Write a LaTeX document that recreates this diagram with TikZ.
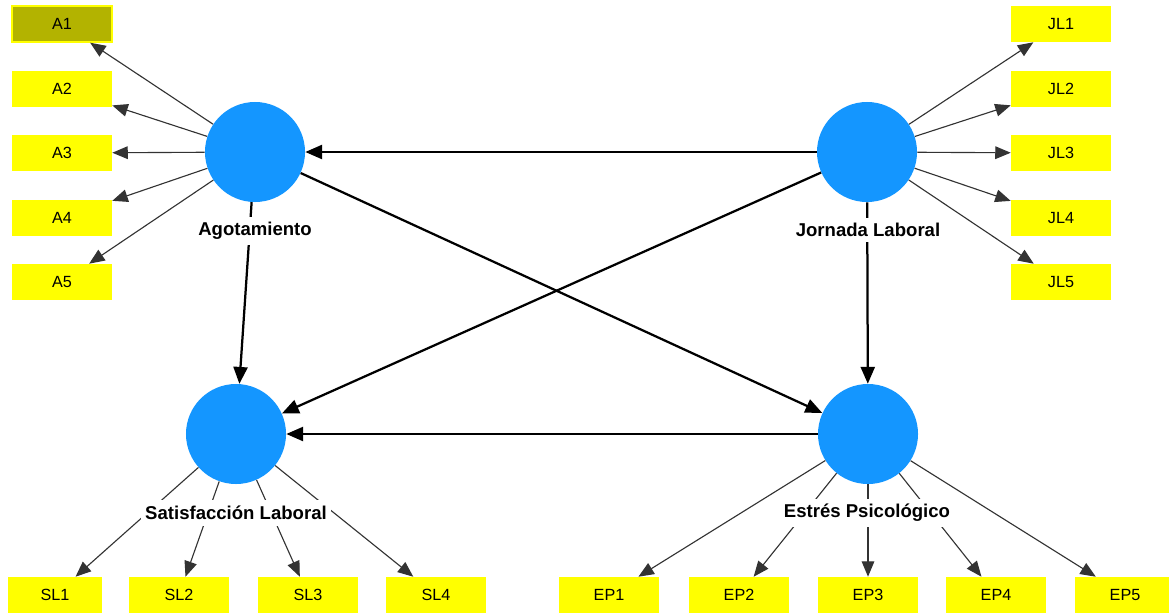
\documentclass[tikz,border=0pt]{standalone}
\usepackage{fontspec}
\setmainfont{Liberation Sans}
\usepackage{xcolor}
\usetikzlibrary{arrows.meta}
\definecolor{indyellow}{HTML}{FFFF00}
\definecolor{selolive}{HTML}{B3B300}
\definecolor{latblue}{HTML}{1496FF}

\tikzset{
  latent/.style={circle, fill=latblue, minimum size=2.5cm, inner sep=0pt},
  latlabel/.style={fill=white, inner xsep=3pt, inner ysep=4pt,
                   font=\fontsize{13.2}{15}\selectfont\bfseries},
  indicator/.style={fill=indyellow, minimum width=2.5cm, minimum height=0.9cm,
                    inner sep=0pt, font=\fontsize{11.5}{13}\selectfont},
  loadarrow/.style={-{Triangle[length=11pt, width=9pt]}, draw=black!80, line width=0.8pt},
  patharrow/.style={-{Triangle[length=12pt, width=10pt]}, draw=black, line width=1.6pt}
}

\begin{document}
\begin{tikzpicture}[x=0.025cm, y=-0.025cm]
    \useasboundingbox (0,0) rectangle (1169,613);

    % latent variables
    \node[latent] (agot)   at (255,152) {};
    \node[latent] (jorn)   at (867,152) {};
    \node[latent] (satis)  at (236,434) {};
    \node[latent] (estres) at (868,434) {};

    % indicators
    \node[indicator, fill=selolive, draw=indyellow, line width=1pt] (a1) at (62,24) {A1};
    \node[indicator] (a2) at (62,89)  {A2};
    \node[indicator] (a3) at (62,153) {A3};
    \node[indicator] (a4) at (62,218) {A4};
    \node[indicator] (a5) at (62,282) {A5};

    \node[indicator] (jl1) at (1061,24)  {JL1};
    \node[indicator] (jl2) at (1061,89)  {JL2};
    \node[indicator] (jl3) at (1061,153) {JL3};
    \node[indicator] (jl4) at (1061,218) {JL4};
    \node[indicator] (jl5) at (1061,282) {JL5};

    \node[indicator, minimum width=2.35cm] (sl1) at (55,595)  {SL1};
    \node[indicator] (sl2) at (179,595) {SL2};
    \node[indicator] (sl3) at (308,595) {SL3};
    \node[indicator] (sl4) at (436,595) {SL4};

    \node[indicator] (ep1) at (609,595)  {EP1};
    \node[indicator] (ep2) at (739,595)  {EP2};
    \node[indicator] (ep3) at (868,595)  {EP3};
    \node[indicator] (ep4) at (996,595)  {EP4};
    \node[indicator] (ep5) at (1125,595) {EP5};

    % outer model
    \draw[loadarrow] (agot) -- (a1);
    \draw[loadarrow] (agot) -- (a2);
    \draw[loadarrow] (agot) -- (a3);
    \draw[loadarrow] (agot) -- (a4);
    \draw[loadarrow] (agot) -- (a5);
    \draw[loadarrow] (jorn) -- (jl1);
    \draw[loadarrow] (jorn) -- (jl2);
    \draw[loadarrow] (jorn) -- (jl3);
    \draw[loadarrow] (jorn) -- (jl4);
    \draw[loadarrow] (jorn) -- (jl5);
    \draw[loadarrow] (satis) -- (sl1);
    \draw[loadarrow] (satis) -- (sl2);
    \draw[loadarrow] (satis) -- (sl3);
    \draw[loadarrow] (satis) -- (sl4);
    \draw[loadarrow] (estres) -- (ep1);
    \draw[loadarrow] (estres) -- (ep2);
    \draw[loadarrow] (estres) -- (ep3);
    \draw[loadarrow] (estres) -- (ep4);
    \draw[loadarrow] (estres) -- (ep5);

    % inner model
    \draw[patharrow] (jorn) -- (agot);
    \draw[patharrow] (jorn) -- (satis);
    \draw[patharrow] (jorn) -- (estres);
    \draw[patharrow] (agot) -- (satis);
    \draw[patharrow] (agot) -- (estres);
    \draw[patharrow] (estres) -- (satis);

    % names on top
    \node[latlabel] (agotlbl)   at (255,231) {Agotamiento};
    \node[latlabel] (jornlbl)   at (868,230) {Jornada Laboral};
    \node[latlabel] (satislbl)  at (236,513) {Satisfacción Laboral};
    \node[latlabel] (estreslbl) at (867,513) {Estrés Psicológico};
  \end{tikzpicture}
\end{document}
